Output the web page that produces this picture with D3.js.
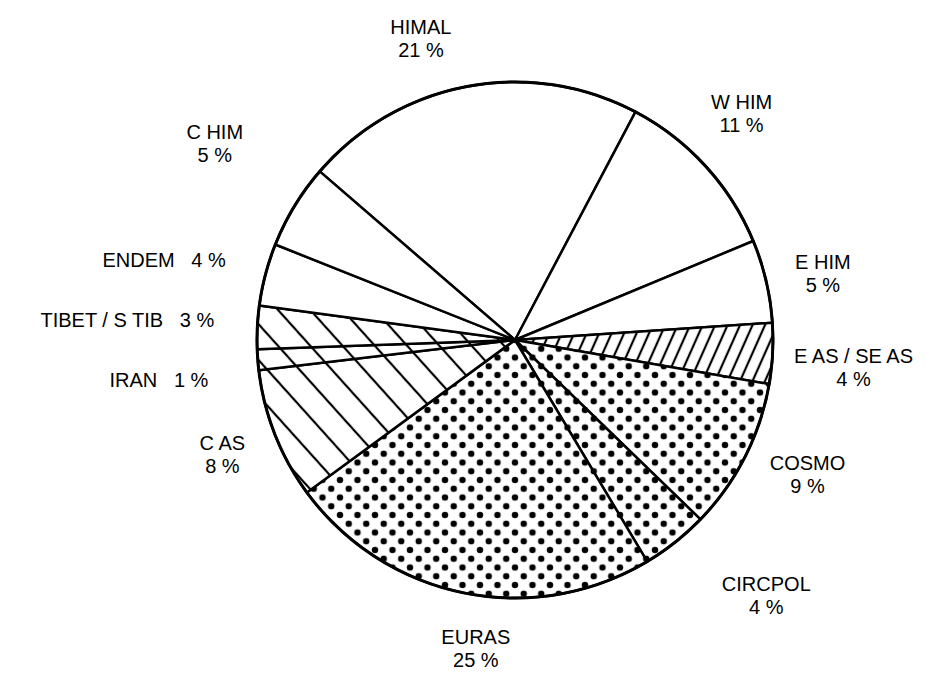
<!DOCTYPE html>
<html>
<head>
<meta charset="utf-8">
<script src="https://cdn.jsdelivr.net/npm/d3@7"></script>
<style>
	body { margin: 0; background: #fff; }
	text { font-family: Arial, "Liberation Sans", sans-serif; font-size: 20px; fill: #000; white-space: pre; }
</style>
</head>
<body>
<svg id="pie" width="926" height="676" viewBox="0 0 926 676"></svg>
<script>

// slices, clockwise from the HIMAL slice
const categories = ["HIMAL", "W HIM", "E HIM", "E AS / SE AS", "COSMO", "CIRCPOL", "EURAS", "C AS", "IRAN", "TIBET / S TIB", "ENDEM", "C HIM"];
// slice sizes as drawn (measured from the wedge angles)
const shares = [21.4, 11.0, 5.2, 3.8, 9.5, 4.2, 23.5, 8.2, 1.3, 2.7, 3.9, 5.3];
// the percentages printed on the chart
const percentLabels = ["21 %", "11 %", "5 %", "4 %", "9 %", "4 %", "25 %", "8 %", "1 %", "3 %", "4 %", "5 %"];

// which fill each slice gets
const fillKind = ["plain", "plain", "plain", "hatchUp", "dots", "dots", "dots", "hatchDown", "hatchDown", "hatchDown", "plain", "plain"];
// labels written on one line ("NAME   x %")
const oneLine = ["IRAN", "TIBET / S TIB", "ENDEM"];
// hand nudges for the labels, from the default position on the label arc
const labelNudge = [[-37, 1], [-1, -19], [8, 4], [31, 11], [18, -5], [60, 14], [22, 7], [-6, 2], [-49, 16], [-80, -5], [-53, -2], [-37, -37]];

function drawPie(svg_id) {
	const svg = d3.select('#' + svg_id);
	const cx = 515, cy = 340, radius = 258;
	const startAngle = -49.2 * Math.PI / 180;

	const defs = svg.append("defs");

	// diagonal hatching, made from vertical lines that are rotated
	function hatch(id, spacing, angle) {
		const p = defs.append("pattern")
			.attr("id", id)
			.attr("patternUnits", "userSpaceOnUse")
			.attr("width", spacing)
			.attr("height", spacing)
			.attr("patternTransform", "rotate(" + angle + ")");
		p.append("rect").attr("width", spacing).attr("height", spacing).attr("fill", "#fff");
		p.append("line")
			.attr("x1", spacing / 2).attr("y1", -1)
			.attr("x2", spacing / 2).attr("y2", spacing + 1)
			.attr("stroke", "#000")
			.attr("stroke-width", 2.2);
	}
	hatch("hatchUp", 11.4, 24);
	hatch("hatchDown", 24, -42);

	// staggered dot screen
	const step = 17.5;
	const dots = defs.append("pattern")
		.attr("id", "dots")
		.attr("patternUnits", "userSpaceOnUse")
		.attr("width", step)
		.attr("height", step);
	dots.append("rect").attr("width", step).attr("height", step).attr("fill", "#fff");
	[[0, 0], [step, 0], [0, step], [step, step], [step / 2, step / 2]].forEach(d => {
		dots.append("circle").attr("cx", d[0]).attr("cy", d[1]).attr("r", 3.2).attr("fill", "#000");
	});

	const pie = d3.pie()
		.sort(null)
		.value(d => d)
		.startAngle(startAngle)
		.endAngle(startAngle + 2 * Math.PI);
	const arcs = pie(shares);

	const arc = d3.arc().innerRadius(0).outerRadius(radius);
	const labelArc = d3.arc().innerRadius(radius + 50).outerRadius(radius + 50);

	const g = svg.append("g").attr("transform", "translate(" + cx + "," + cy + ")");

	g.selectAll("path.slice")
		.data(arcs)
		.enter()
		.append("path")
		.attr("class", "slice")
		.attr("d", arc)
		.attr("fill", (d, i) => fillKind[i] == "plain" ? "#fff" : "url(#" + fillKind[i] + ")")
		.attr("stroke", "#000")
		.attr("stroke-width", 2.5)
		.attr("stroke-linejoin", "round");

	// outer rim a bit heavier
	g.append("circle")
		.attr("r", radius)
		.attr("fill", "none")
		.attr("stroke", "#000")
		.attr("stroke-width", 3);

	const labels = g.selectAll("text.lbl")
		.data(arcs)
		.enter()
		.append("text")
		.attr("class", "lbl")
		.attr("text-anchor", "middle");

	labels.each(function(d, i) {
		const c = labelArc.centroid(d);
		const x = c[0] + labelNudge[i][0];
		const y = c[1] + labelNudge[i][1];
		const t = d3.select(this);
		if (oneLine.includes(categories[i])) {
			t.append("tspan").attr("x", x).attr("y", y + 7).text(categories[i] + "   " + percentLabels[i]);
		} else {
			t.append("tspan").attr("x", x).attr("y", y - 4.5).text(categories[i]);
			t.append("tspan").attr("x", x).attr("y", y + 18.5).text(percentLabels[i]);
		}
	});
}

drawPie("pie");
</script>
</body>
</html>
